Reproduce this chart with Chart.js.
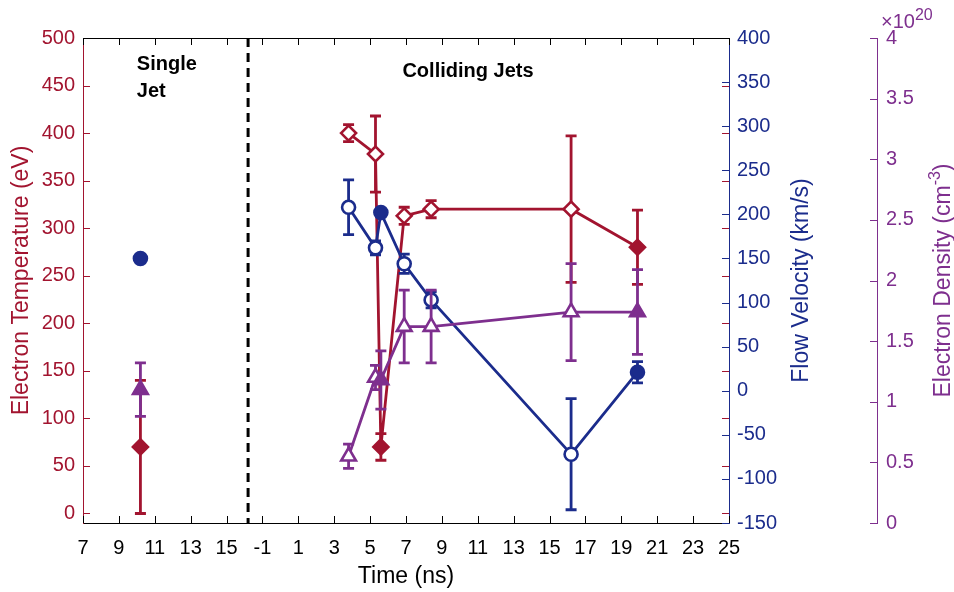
<!DOCTYPE html>
<html>
<head>
<meta charset="utf-8">
<script src="https://cdn.jsdelivr.net/npm/chart.js@4"></script>
<style>
  html, body { margin: 0; padding: 0; background: #fff; }
  #c { display: block; }
</style>
</head>
<body>
<canvas id="c" width="954" height="592"></canvas>
<script>
// Broken time axis: the single-jet panel labels are shifted by SHIFT ns
const SHIFT = 18;
const BREAK_X = -1.8;

const xTickValues = [-11, -9, -7, -5, -3, -1, 1, 3, 5, 7, 9, 11, 13, 15, 17, 19, 21, 23, 25];
const xTickLabels = ['7', '9', '11', '13', '15', '-1', '1', '3', '5', '7', '9', '11', '13', '15', '17', '19', '21', '23', '25'];
const tempTicks = [0, 50, 100, 150, 200, 250, 300, 350, 400, 450, 500];
const velTicks = [-150, -100, -50, 0, 50, 100, 150, 200, 250, 300, 350, 400];
const densTicks = [0, 0.5, 1, 1.5, 2, 2.5, 3, 3.5, 4];
const densTickLabels = ['0', '0.5', '1', '1.5', '2', '2.5', '3', '3.5', '4'];

// Single jet (time read on the left panel, ns)
const singleTime = [10.2];
const singleTemp = [70];
const singleTempErr = [70];
const singleVel = [150];
const singleVelErr = [0];
const singleDens = [1.1];
const singleDensErr = [0.22];

// Colliding jets
const collTime = [3.8, 5.3, 5.6, 6.9, 8.4, 16.2, 19.9];
const collFilled = [false, false, true, false, false, false, true];
const collTemp = [400, 378, 70, 313, 320, 320, 280];
const collTempErr = [9, 40, 14, 9, 9, 77, 39];
const collVel = [208, 162, 202, 144, 103, -72, 21];
const collVelErr = [31, 8, 0, 11, 9, 63, 12];
const collDens = [0.55, 1.2, 1.18, 1.62, 1.62, 1.74, 1.74];
const collDensErr = [0.1, 0.1, 0.24, 0.3, 0.3, 0.4, 0.35];

const RED = '#A2142F', BLUE = '#1B2C8C', PURPLE = '#7E2F8E', INK = '#000';
const FONT = "'Liberation Sans', Arial, Helvetica, sans-serif";

Chart.defaults.font.family = FONT;

function pts(times, vals, shift) {
  return times.map((t, i) => ({ x: t - shift, y: vals[i] }));
}

function series(o) {
  return {
    label: o.label,
    data: pts(o.times, o.vals, o.shift),
    errors: o.errs,
    yAxisID: o.axis,
    showLine: o.line,
    borderColor: o.color,
    borderWidth: 2.8,
    pointStyle: o.style,
    pointRadius: o.r,
    pointHoverRadius: o.r,
    pointBorderWidth: 2.6,
    pointBorderColor: o.color,
    pointBackgroundColor: o.filled.map(f => f ? o.color : '#fff'),
    tension: 0,
    order: o.order
  };
}

// vertical error bars, drawn under each dataset's markers
const errorBars = {
  id: 'errorBars',
  beforeDatasetDraw(chart, args) {
    const ds = chart.data.datasets[args.index];
    if (!ds.errors) return;
    const xs = chart.scales.x, ys = chart.scales[ds.yAxisID];
    const ctx = chart.ctx;
    ctx.save();
    ctx.strokeStyle = ds.borderColor;
    ctx.lineWidth = 2.8;
    ds.data.forEach((p, i) => {
      const e = ds.errors[i];
      if (!e) return;
      const px = xs.getPixelForValue(p.x);
      const y1 = ys.getPixelForValue(p.y - e), y2 = ys.getPixelForValue(p.y + e);
      ctx.beginPath();
      ctx.moveTo(px, y1); ctx.lineTo(px, y2);
      ctx.moveTo(px - 5.5, y1); ctx.lineTo(px + 5.5, y1);
      ctx.moveTo(px - 5.5, y2); ctx.lineTo(px + 5.5, y2);
      ctx.stroke();
    });
    ctx.restore();
  }
};

const notes = [
  { text: 'Single', x: 10.0 - SHIFT, y: 466 },
  { text: 'Jet', x: 10.0 - SHIFT, y: 438 },
  { text: 'Colliding Jets', x: 6.8, y: 459 }
];

function vText(ctx, text, x, y, color) {
  ctx.save();
  ctx.translate(x, y);
  ctx.rotate(-Math.PI / 2);
  ctx.fillStyle = color;
  ctx.textAlign = 'center';
  ctx.textBaseline = 'middle';
  ctx.fillText(text, 0, 0);
  ctx.restore();
}

const frame = {
  id: 'frame',
  beforeDatasetsDraw(chart) {
    const { ctx, chartArea: a, scales } = chart;
    const bx = scales.x.getPixelForValue(BREAK_X);
    ctx.save();
    ctx.setLineDash([9, 6]);
    ctx.lineWidth = 3;
    ctx.strokeStyle = INK;
    ctx.beginPath();
    ctx.moveTo(bx, a.top); ctx.lineTo(bx, a.bottom);
    ctx.stroke();
    ctx.restore();

    ctx.save();
    ctx.font = 'bold 20px ' + FONT;
    ctx.fillStyle = INK;
    ctx.textBaseline = 'alphabetic';
    notes.forEach(n => ctx.fillText(n.text, scales.x.getPixelForValue(n.x), scales.yT.getPixelForValue(n.y)));
    ctx.restore();
  },
  afterDraw(chart) {
    const { ctx, chartArea: a, scales } = chart;
    const L = 7;
    const seg = (x1, y1, x2, y2) => { ctx.beginPath(); ctx.moveTo(x1, y1); ctx.lineTo(x2, y2); ctx.stroke(); };
    const py = (s, v) => Math.round(s.getPixelForValue(v)) + 0.5;
    ctx.save();
    ctx.lineWidth = 1;
    ctx.strokeStyle = RED;
    tempTicks.forEach(v => { const y = py(scales.yT, v); seg(a.left, y, a.left + L, y); seg(a.right - L, y, a.right, y); });
    ctx.strokeStyle = BLUE;
    velTicks.forEach(v => { const y = py(scales.yV, v); seg(a.right - L, y, a.right, y); });
    ctx.strokeStyle = PURPLE;
    const dx = scales.yD.left;
    densTicks.forEach(v => { const y = py(scales.yD, v); seg(dx - L, y, dx, y); });
    ctx.strokeStyle = INK;
    xTickValues.forEach(v => {
      const x = Math.round(scales.x.getPixelForValue(v)) + 0.5;
      seg(x, a.bottom, x, a.bottom - L);
      seg(x, a.top, x, a.top + L);
    });
    seg(a.left, Math.round(a.top) + 0.5, a.right, Math.round(a.top) + 0.5);
    ctx.restore();

    // axis titles
    ctx.save();
    ctx.font = '23px ' + FONT;
    const midY = (a.top + a.bottom) / 2;
    vText(ctx, 'Electron Temperature (eV)', 22, midY, RED);
    vText(ctx, 'Flow Velocity (km/s)', 802, midY, BLUE);
    ctx.fillStyle = INK;
    ctx.textAlign = 'center';
    ctx.textBaseline = 'alphabetic';
    ctx.fillText('Time (ns)', (a.left + a.right) / 2, 583);

    // density title with superscript
    const t1 = 'Electron Density (cm', t2 = '-3', t3 = ')';
    const w1 = ctx.measureText(t1).width, w3 = ctx.measureText(t3).width;
    ctx.font = '16px ' + FONT;
    const w2 = ctx.measureText(t2).width;
    const w = w1 + w2 + w3;
    ctx.translate(942, midY);
    ctx.rotate(-Math.PI / 2);
    ctx.fillStyle = PURPLE;
    ctx.textAlign = 'left';
    ctx.textBaseline = 'alphabetic';
    ctx.font = '23px ' + FONT;
    ctx.fillText(t1, -w / 2, 8);
    ctx.fillText(t3, -w / 2 + w1 + w2, 8);
    ctx.font = '16px ' + FONT;
    ctx.fillText(t2, -w / 2 + w1, -2);
    ctx.restore();

    // exponent label of the density axis
    ctx.save();
    ctx.fillStyle = PURPLE;
    ctx.textBaseline = 'alphabetic';
    ctx.font = '20px ' + FONT;
    ctx.fillText('\u00d710', dx + 4, 28);
    const wx = ctx.measureText('\u00d710').width;
    ctx.font = '16px ' + FONT;
    ctx.fillText('20', dx + 4 + wx, 20);
    ctx.restore();
  }
};

const noGrid = { display: false, drawTicks: false };

new Chart(document.getElementById('c'), {
  type: 'line',
  data: {
    datasets: [
      series({ label: 'Te colliding', times: collTime, vals: collTemp, errs: collTempErr, filled: collFilled, shift: 0, line: true, color: RED, style: 'rectRot', r: 7.5, axis: 'yT', order: 3 }),
      series({ label: 'Te single', times: singleTime, vals: singleTemp, errs: singleTempErr, filled: [true], shift: SHIFT, line: false, color: RED, style: 'rectRot', r: 7.5, axis: 'yT', order: 3 }),
      series({ label: 'v colliding', times: collTime, vals: collVel, errs: collVelErr, filled: collFilled, shift: 0, line: true, color: BLUE, style: 'circle', r: 6.5, axis: 'yV', order: 2 }),
      series({ label: 'v single', times: singleTime, vals: singleVel, errs: singleVelErr, filled: [true], shift: SHIFT, line: false, color: BLUE, style: 'circle', r: 6.5, axis: 'yV', order: 2 }),
      series({ label: 'ne colliding', times: collTime, vals: collDens, errs: collDensErr, filled: collFilled, shift: 0, line: true, color: PURPLE, style: 'triangle', r: 8.5, axis: 'yD', order: 1 }),
      series({ label: 'ne single', times: singleTime, vals: singleDens, errs: singleDensErr, filled: [true], shift: SHIFT, line: false, color: PURPLE, style: 'triangle', r: 8.5, axis: 'yD', order: 1 })
    ]
  },
  plugins: [errorBars, frame],
  options: {
    responsive: false,
    animation: false,
    devicePixelRatio: 1,
    layout: { padding: { top: 38, left: 0, right: 0, bottom: 0 } },
    plugins: { legend: { display: false }, tooltip: { enabled: false } },
    scales: {
      x: {
        type: 'linear',
        min: -11,
        max: 25,
        grid: noGrid,
        border: { color: INK, width: 1 },
        afterBuildTicks: s => { s.ticks = xTickValues.map(v => ({ value: v })); },
        afterFit: s => { s.height = 69; },
        ticks: {
          autoSkip: false, maxRotation: 0, minRotation: 0, padding: 13,
          color: INK, font: { size: 20 },
          callback: (v, i) => xTickLabels[i]
        }
      },
      yT: {
        position: 'left',
        min: -10,
        max: 500,
        grid: noGrid,
        border: { color: RED, width: 1 },
        afterBuildTicks: s => { s.ticks = tempTicks.map(v => ({ value: v })); },
        afterFit: s => { s.width = 83; },
        ticks: { padding: 8, color: RED, font: { size: 20 } }
      },
      yV: {
        position: 'right',
        weight: 0,
        min: -150,
        max: 400,
        grid: noGrid,
        border: { color: BLUE, width: 1 },
        afterBuildTicks: s => { s.ticks = velTicks.map(v => ({ value: v })); },
        afterFit: s => { s.width = 148; },
        ticks: { padding: 8, color: BLUE, font: { size: 20 } }
      },
      yD: {
        position: 'right',
        weight: 1,
        min: 0,
        max: 4,
        grid: noGrid,
        border: { color: PURPLE, width: 1 },
        afterBuildTicks: s => { s.ticks = densTicks.map(v => ({ value: v })); },
        afterFit: s => { s.width = 77; },
        ticks: { padding: 9, color: PURPLE, font: { size: 20 }, callback: (v, i) => densTickLabels[i] }
      }
    }
  }
});
</script>
</body>
</html>
